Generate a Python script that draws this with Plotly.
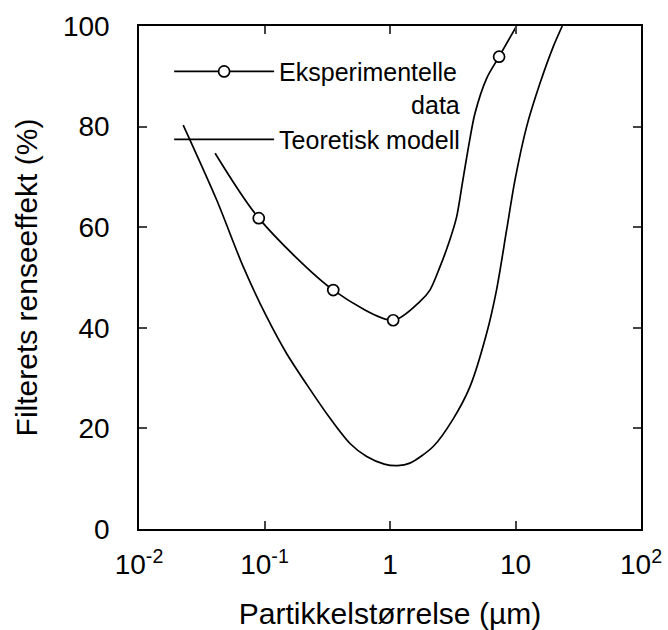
import plotly.graph_objects as go

# Theoretical model curve (particle size in µm, efficiency in %)
theory_x = [0.0225, 0.0416, 0.0678, 0.104, 0.150, 0.333, 0.480, 0.652, 0.90, 1.15,
            1.44, 2.21, 3.19, 4.34, 5.89, 7.06, 8.49, 9.91, 12.27, 15.67, 20.0, 23.6]
theory_y = [80.3, 65.4, 52.1, 42.2, 34.9, 22.0, 17.0, 14.4, 12.9, 12.6,
            13.1, 16.4, 21.9, 28.3, 38.9, 47.5, 59.4, 69.4, 80.0, 88.6, 95.9, 100.0]

# Experimental curve (drawn line) and measured points
exp_line_x = [0.0404, 0.090, 0.353, 1.06, 1.73, 2.08, 2.50, 3.00, 3.40, 3.77,
              4.21, 4.75, 5.89, 7.40, 10.2]
exp_line_y = [74.7, 61.8, 47.5, 41.5, 45.2, 47.5, 52.1, 57.5, 62.1, 68.7,
              75.8, 82.6, 89.6, 93.9, 100.0]
exp_pts_x = [0.090, 0.353, 1.06, 7.40]
exp_pts_y = [61.8, 47.5, 41.5, 93.9]

x_tickvals = [0.01, 0.1, 1, 10, 100]
x_ticktext = ["10<sup>-2</sup>", "10<sup>-1</sup>", "1", "10", "10<sup>2</sup>"]
y_tickvals = [0, 20, 40, 60, 80, 100]

FONT = "Liberation Sans, Arial, sans-serif"
PAD = "&nbsp;" * 19

fig = go.Figure()
fig.add_trace(go.Scatter(x=exp_line_x, y=exp_line_y, mode="lines",
                         line=dict(color="black", width=1.7, shape="spline", smoothing=0.8),
                         showlegend=False, hoverinfo="skip"))
fig.add_trace(go.Scatter(x=exp_pts_x, y=exp_pts_y, mode="markers",
                         marker=dict(symbol="circle", size=11, color="white",
                                     line=dict(color="black", width=1.7)),
                         showlegend=False))
fig.add_trace(go.Scatter(x=[None], y=[None], mode="lines+markers",
                         name="Eksperimentelle<br>" + PAD + "data",
                         line=dict(color="black", width=1.7),
                         marker=dict(symbol="circle", size=11, color="white",
                                     line=dict(color="black", width=1.7))))
fig.add_trace(go.Scatter(x=theory_x, y=theory_y, mode="lines",
                         name="Teoretisk modell",
                         line=dict(color="black", width=1.7, shape="spline", smoothing=0.8)))

fig.update_layout(
    width=668, height=630,
    margin=dict(l=139, r=27, t=26, b=101),
    paper_bgcolor="white", plot_bgcolor="white",
    font=dict(family=FONT, color="black", size=28),
    legend=dict(x=0.06, y=0.955, xanchor="left", yanchor="top",
                bgcolor="rgba(0,0,0,0)", font=dict(size=25),
                tracegroupgap=0, itemwidth=100, valign="top"),
)
fig.update_xaxes(type="log", range=[-2, 2], tickvals=x_tickvals, ticktext=x_ticktext,
                 ticks="inside", ticklen=8, tickwidth=1.6, showline=True, linewidth=1.6,
                 linecolor="black", mirror="ticks", showgrid=False, zeroline=False,
                 tickfont=dict(size=28), ticklabelstandoff=10, automargin=False,
                 title=dict(text="Partikkelstørrelse (µm)", font=dict(size=30), standoff=24))
fig.update_yaxes(range=[0, 100], tickvals=y_tickvals,
                 ticks="inside", ticklen=8, tickwidth=1.6, showline=True, linewidth=1.6,
                 linecolor="black", mirror="ticks", showgrid=False, zeroline=False,
                 tickfont=dict(size=28), ticklabelstandoff=22, automargin=False,
                 title=dict(text="Filterets renseeffekt (%)", font=dict(size=30), standoff=16))

fig.write_html("out.html")
